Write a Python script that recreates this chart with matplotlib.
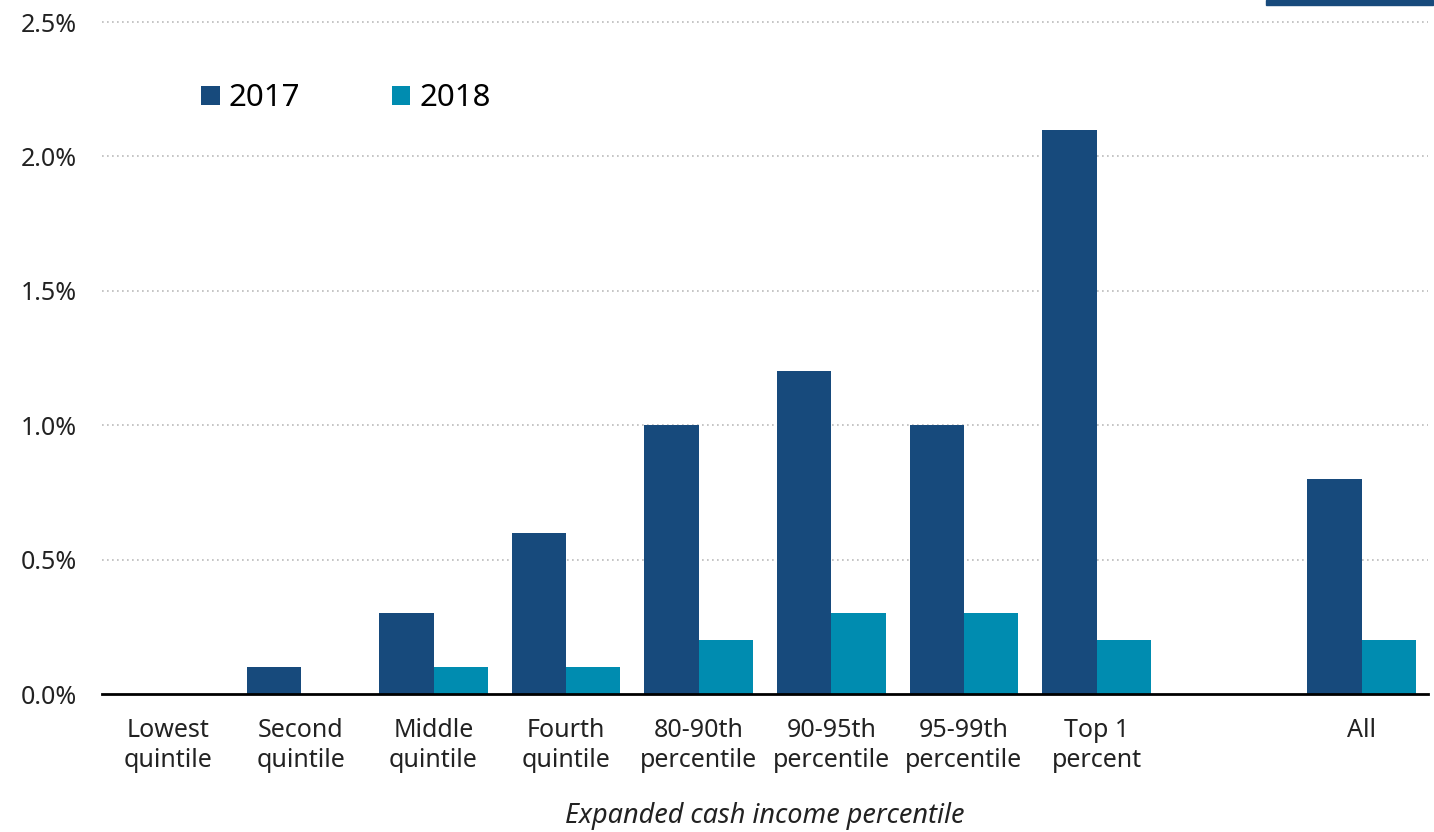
import numpy as np
import matplotlib
matplotlib.use("Agg")
import matplotlib.pyplot as plt
from matplotlib.patches import Rectangle

plt.rcParams['font.family'] = ['Noto Sans', 'DejaVu Sans']

# data
categories = ["Lowest\nquintile", "Second\nquintile", "Middle\nquintile", "Fourth\nquintile",
              "80-90th\npercentile", "90-95th\npercentile", "95-99th\npercentile",
              "Top 1\npercent", "All"]
vals_2017 = [0.0, 0.1, 0.3, 0.6, 1.0, 1.2, 1.0, 2.1, 0.8]
vals_2018 = [0.0, 0.0, 0.1, 0.1, 0.2, 0.3, 0.3, 0.2, 0.2]
yticks = [0.0, 0.5, 1.0, 1.5, 2.0, 2.5]

c2017 = '#174A7C'
c2018 = '#008CB0'

# leave an empty slot before "All"
x = np.array(list(range(len(categories) - 1)) + [len(categories)])
w = 0.41

fig = plt.figure(figsize=(14.34, 8.32), dpi=100)
ax = fig.add_axes([102/1434, 1 - 694/832, 1326/1434, 672/832])

ax.bar(x - w/2, vals_2017, w, color=c2017, label='2017', zorder=3)
ax.bar(x + w/2, vals_2018, w, color=c2018, label='2018', zorder=3)

ax.set_xlim(-0.5, 9.5)
ax.set_ylim(0, 2.5)
ax.set_yticks(yticks)
ax.set_yticklabels([f"{v:.1f}%" for v in yticks], fontsize=18, color='#222222')
ax.set_xticks(x)
ax.set_xticklabels(categories, fontsize=18, color='#222222', linespacing=1.26)
ax.tick_params(axis='both', length=0)
ax.tick_params(axis='y', pad=18)
ax.tick_params(axis='x', pad=17)

for s in ['top', 'right', 'left']:
    ax.spines[s].set_visible(False)
ax.spines['bottom'].set_linewidth(2)
ax.spines['bottom'].set_color('black')
ax.spines['bottom'].set_zorder(4)

for v in yticks[1:]:
    ax.axhline(v, color='#BBBBBB', lw=1.2, ls=(0, (1, 2)), zorder=1, clip_on=False)

ax.set_xlabel('Expanded cash income percentile', fontsize=19.5, style='italic',
              color='#222222', labelpad=21)

leg = ax.legend(loc='center left', bbox_to_anchor=(0.075, 0.8865), ncol=2, frameon=False,
                fontsize=22.5, handlelength=0.58, handleheight=0.58, handletextpad=0.29,
                columnspacing=2.95, borderaxespad=0, borderpad=0)

fig.patches.append(Rectangle((1266/1434, 1 - 5/832), 167/1434, 5/832,
                             transform=fig.transFigure, color=c2017))

fig.savefig('out.png', dpi=100)
